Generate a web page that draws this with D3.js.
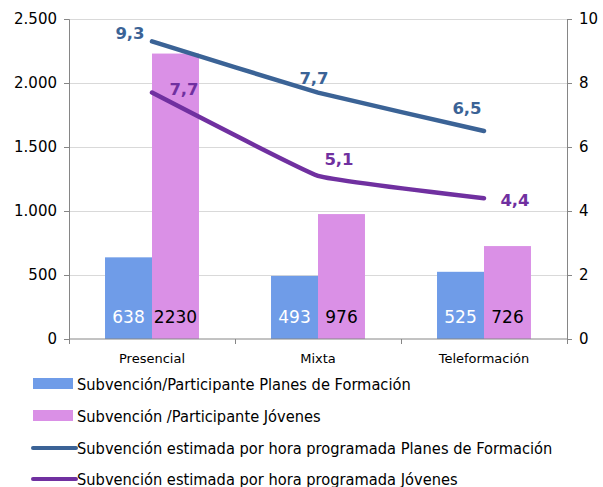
<!DOCTYPE html>
<html><head><meta charset="utf-8">
<script src="https://cdn.jsdelivr.net/npm/d3@7"></script>
<style>
html,body{margin:0;padding:0;background:#fff;}
svg{display:block;font-family:"DejaVu Sans",Verdana,sans-serif;}
</style></head>
<body>
<svg id="chart" width="603" height="487"></svg>
<script>
const categories = ["Presencial", "Mixta", "Teleformación"];
const barSeriesNames = ["Subvención/Participante Planes de Formación", "Subvención /Participante Jóvenes"];
const barPlanes = [638, 493, 525];
const barJovenes = [2230, 976, 726];
const lineSeriesNames = ["Subvención estimada por hora programada Planes de Formación", "Subvención estimada por hora programada Jóvenes"];
const linePlanes = [9.3, 7.7, 6.5];
const lineJovenes = [7.7, 5.1, 4.4];
const leftTicks = [0, 500, 1000, 1500, 2000, 2500];
const leftTickLabels = ["0", "500", "1.000", "1.500", "2.000", "2.500"];
const rightTicks = [0, 2, 4, 6, 8, 10];

const barColors = ["#6f9ce8", "#da90e6"];
const barLabelColors = ["#ffffff", "#000000"];
const lineColors = ["#3b6396", "#7030a0"];

const svg = d3.select("#chart");
const L = 69, R = 567, T = 19, B = 339;

const x0 = d3.scaleBand().domain(categories).range([L, R]).paddingInner(0.434).paddingOuter(0.217);
const x1 = d3.scaleBand().domain([0, 1]).range([0, x0.bandwidth()]);
const xc = d => x0(d) + x0.bandwidth() / 2;
const yL = d3.scaleLinear().domain([0, 2500]).range([B, T]);
const yR = d3.scaleLinear().domain([0, 10]).range([B, T]);

// gridlines
svg.append("g").selectAll("line").data(leftTicks.filter(t => t > 0)).join("line")
  .attr("x1", L).attr("x2", R).attr("y1", d => yL(d)).attr("y2", d => yL(d))
  .attr("stroke", "#d9d9d9").attr("stroke-width", 1).attr("shape-rendering", "crispEdges");

// bars
const barData = [barPlanes, barJovenes];
categories.forEach((c, i) => {
  barData.forEach((arr, s) => {
    svg.append("rect")
      .attr("x", x0(c) + x1(s)).attr("width", x1.bandwidth())
      .attr("y", yL(arr[i])).attr("height", B - yL(arr[i]))
      .attr("fill", barColors[s]);
    svg.append("text")
      .attr("x", x0(c) + x1(s) + x1.bandwidth() / 2).attr("y", B - 16)
      .attr("text-anchor", "middle").attr("font-size", 17)
      .attr("fill", barLabelColors[s]).text(arr[i]);
  });
});

// axes
const axisColor = "#868686";
const gl = svg.append("g").attr("transform", `translate(${L},0)`)
  .call(d3.axisLeft(yL).tickValues(leftTicks).tickFormat((d, i) => leftTickLabels[i]).tickSize(5).tickPadding(7));
const gr = svg.append("g").attr("transform", `translate(${R},0)`)
  .call(d3.axisRight(yR).tickValues(rightTicks).tickSize(5).tickPadding(7));
const bandEdges = categories.map(c => x0(c) - x0.step() * 0.217).concat([R]);
const gx = svg.append("g").attr("transform", `translate(0,${B})`)
  .call(d3.axisBottom(d3.scaleLinear().domain([L, R]).range([L, R])).tickValues(bandEdges).tickFormat("").tickSize(5));
[gl, gr, gx].forEach(g => {
  g.selectAll("path,line").attr("stroke", axisColor);
  g.selectAll("text").attr("font-size", 15).attr("fill", "#000").attr("font-family", "DejaVu Sans");
});
gx.select(".domain").attr("d", `M${L},0H${R}`);
svg.append("g").selectAll("text").data(categories).join("text")
  .attr("x", d => xc(d)).attr("y", B + 24).attr("text-anchor", "middle")
  .attr("font-size", 13).attr("fill", "#000").text(d => d);

// lines
const lineData = [linePlanes, lineJovenes];
const line = d3.line().x((d, i) => xc(categories[i])).y(d => yR(d)).curve(d3.curveCardinal.tension(0.75));
lineData.forEach((arr, s) => {
  svg.append("path").attr("d", line(arr)).attr("fill", "none")
    .attr("stroke", lineColors[s]).attr("stroke-width", 4.5).attr("stroke-linecap", "round");
});
// line value label offsets (layout)
const labelOffsets = [
  [[-22, -2], [-4, -9], [-17, -17]],
  [[32, 2], [21, -11], [31, 8]]
];
lineData.forEach((arr, s) => {
  arr.forEach((v, i) => {
    svg.append("text")
      .attr("x", xc(categories[i]) + labelOffsets[s][i][0])
      .attr("y", yR(v) + labelOffsets[s][i][1])
      .attr("text-anchor", "middle").attr("font-size", 16.5).attr("font-weight", "bold")
      .attr("fill", lineColors[s]).text(String(v).replace(".", ","));
  });
});

// legend
const legY = [384, 416, 448, 479];
const legend = svg.append("g");
barSeriesNames.forEach((n, i) => {
  legend.append("rect").attr("x", 33).attr("y", legY[i] - 6).attr("width", 40).attr("height", 11).attr("fill", barColors[i]);
});
lineSeriesNames.forEach((n, i) => {
  legend.append("line").attr("x1", 33).attr("x2", 76).attr("y1", legY[i + 2]).attr("y2", legY[i + 2])
    .attr("stroke", lineColors[i]).attr("stroke-width", 4).attr("stroke-linecap", "round");
});
barSeriesNames.concat(lineSeriesNames).forEach((n, i) => {
  legend.append("text").attr("x", 77).attr("y", legY[i] + 6).attr("font-size", 16.3)
    .attr("font-family", "DejaVu Sans Condensed, DejaVu Sans").attr("fill", "#000").text(n);
});
</script>
</body></html>
